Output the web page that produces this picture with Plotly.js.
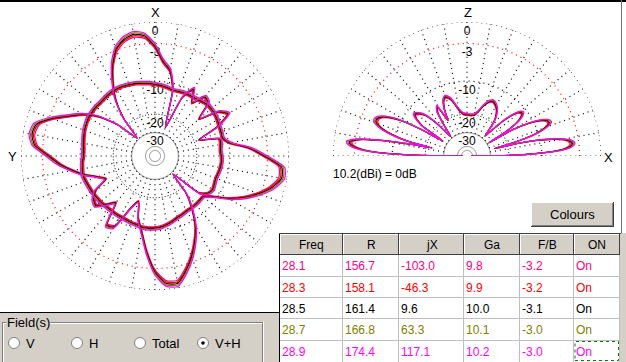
<!DOCTYPE html>
<html><head><meta charset="utf-8">
<script src="https://cdn.plot.ly/plotly-3.0.1.min.js"></script>
<style>html,body{margin:0;padding:0;background:#fff;overflow:hidden}#chart{width:626px;height:362px}</style>
</head><body><div id="chart"></div>
<script>
// ---------------- data ----------------
const freqs = [28.1, 28.3, 28.5, 28.7, 28.9];
const resistance = [156.7, 158.1, 161.4, 166.8, 174.4];
const reactance = [-103.0, -46.3, 9.6, 63.3, 117.1];
const gainDbi = [9.8, 9.9, 10.0, 10.1, 10.2];
const frontBack = [-3.2, -3.2, -3.1, -3.0, -3.0];
const onState = ['On', 'On', 'On', 'On', 'On'];
// level of each frequency's pattern relative to the 28.9 curve (dB)
const freqLevelDb = [-0.8, -0.6, -0.4, -0.2, 0.0];
const tableHeader = ['Freq', 'R', 'jX', 'Ga', 'F/B', 'ON'];
const refGainText = '10.2(dBi) = 0dB';
const ringLevels = [0, -3, -10, -20, -30];
const ringLabels = ['0', '-3', '-10', '-20', '-30'];
const fieldOptions = ['V', 'H', 'Total', 'V+H'];
const fieldSelected = 'V+H';

// azimuth cut (deg, X = 0, Y = 90), dB relative to 0dB
const azAngles = [0,5,10,15,20,25,30,35,40,45,50,55,60,65,70,75,80,85,90,95,100,105,110,115,120,125,130,135,140,145,150,155,160,165,170,175,180,185,190,195,200,205,210,215,220,225,230,235,240,245,250,255,260,265,270,275,280,285,290,295,300,305,310,315,320,325,330,335,340,345,350,355];
const azFieldA = [-3.0,-1.4,-1.0,-1.4,-2.4,-4.5,-7.5,-11,-17,-28,-17,-11,-7.8,-5.5,-3.0,-1.1,-0.8,-1.4,-3.5,-5.3,-7.6,-10,-13,-15,-11,-9.5,-9,-11,-13,-7.5,-8,-14,-17,-12,-9,-5.2,-2.0,-0.4,-0.2,-1.6,-3.4,-5.6,-8.2,-12,-17,-28,-14,-12,-11.5,-11.8,-12,-11.8,-11.6,-11.5,-11.6,-11.8,-11.5,-11.5,-17.5,-11,-7.5,-9,-14,-9.5,-9,-12,-9,-12,-25,-11,-7,-5.5];
const azFieldB = [-10.3,-10.0,-9.8,-9.5,-9.3,-9.1,-9.0,-9.0,-9.1,-9.2,-9.1,-9.1,-9.1,-9.3,-9.5,-9.8,-10.1,-10.3,-10.3,-10.0,-9.8,-9.6,-9.8,-10.0,-10.1,-10.3,-10.4,-10.6,-10.7,-10.7,-10.7,-10.7,-10.5,-10.4,-10.1,-10.1,-10.2,-10.4,-10.8,-11.3,-11.8,-12.1,-12.4,-12.4,-12.4,-12.5,-12.5,-10.5,-7.4,-4.9,-2.9,-1.3,-0.3,-0.5,-3.0,-5.6,-9.3,-10.7,-10.6,-10.5,-10.2,-10.0,-9.9,-9.9,-10.3,-10.6,-10.7,-10.8,-11.0,-11.1,-10.8,-10.5];

// elevation cut (deg from +X towards Z), dB relative to 0dB
const elAngles = [0,1,2,3,4,5,6,7,8,9,10,11,12,13,14,15,16,17,18,20,22,24,26,28,30,31,32,34,36,38,40,42,44,46,48,50,52,55,58,62,65,68,72,76,80,85,90,95,100,103,106,110,113,116,118,121,124,127,130,133,136,139,141,143,146,148,150,152,154,156,158,160,162,164,166,167,168,169,170,171,172,173,174,175,176,177,178,179,180];
const elField = [-60,-18,-11,-7,-5,-4.1,-3.7,-3.6,-3.8,-4.3,-5.3,-6.7,-8.7,-11.5,-16,-26,-17,-12.5,-10,-7.6,-6.6,-6.9,-8.2,-10.8,-16,-28,-18,-13,-11.3,-10.7,-11.2,-12.8,-16,-22,-27,-23,-18.5,-16,-14.5,-13.5,-13.2,-13.8,-15.5,-18,-19.5,-19.8,-19.7,-19.3,-17.5,-15.5,-13.5,-12.5,-13.3,-16,-20,-14,-15.5,-22,-28,-18,-13.5,-12,-11.5,-12,-15,-26,-15,-9,-6.6,-5.4,-5,-5.2,-6.3,-8.6,-13,-22,-15,-10,-6,-3.5,-2.3,-1.7,-1.8,-2.2,-3.0,-4.5,-7.5,-15,-60];

// ---------------- styles ----------------
const freqColors = ['#ff0080', '#ff0000', '#000000', '#808000', '#ff00ff'];
const FONT = 'Liberation Sans, Arial, sans-serif';
const W = 626, H = 362;
const R0 = 134;
const PANEL = '#d4d0c8';

// ARRL-style log-periodic radial scale
function ringR(db) { return R0 * Math.pow(0.89, -Math.max(db, -60) / 2); }

const traces = [];
function gridTraces(sub, a0, a1, topAngle) {
  const circ = (r, color, dash, w) => {
    const th = [], rr = [];
    for (let a = a0; a <= a1; a += 1) { th.push(a); rr.push(r); }
    traces.push({type: 'scatterpolar', subplot: sub, theta: th, r: rr, mode: 'lines',
      line: {color: color, dash: dash, width: w || 1}, hoverinfo: 'skip', cliponaxis: false});
  };
  circ(ringR(0), '#000', '1px,4px', 1.2);
  circ(ringR(-3), '#ff0000', '1px,4px', 1.2);
  circ(ringR(-10), '#000', '1px,4px', 1.2);
  circ(ringR(-20), '#000', '1px,2px', 1);
  circ(ringR(-30), '#808080', 'solid', 1);
  circ(9.5, '#808080', 'solid', 1);
  circ(5.5, '#808080', 'solid', 1);
  const th = [], rr = [];
  const last = (a1 - a0 >= 360) ? a1 - 10 : a1;
  for (let a = a0; a <= last; a += 10) {
    th.push(a, a, null); rr.push(ringR(-30), ringR(0), null);
  }
  traces.push({type: 'scatterpolar', subplot: sub, theta: th, r: rr, mode: 'lines',
    line: {color: '#000', dash: '1px,4px', width: 1.2}, hoverinfo: 'skip', connectgaps: false, cliponaxis: false});
  traces.push({type: 'scatterpolar', subplot: sub, mode: 'text',
    theta: ringLevels.map(() => topAngle), r: ringLevels.map(l => ringR(l) - 9.5),
    text: ringLabels, textfont: {family: FONT, size: 12, color: '#000'}, hoverinfo: 'skip', cliponaxis: false});
}
gridTraces('polar', 0, 360, 0);
gridTraces('polar2', 0, 180, 90);

freqs.forEach((f, i) => {
  const off = freqLevelDb[i];
  const lineStyle = {color: freqColors[i], width: 1.2, shape: 'spline', smoothing: 0.6};
  [azFieldA, azFieldB].forEach(field => {
    const th = azAngles.concat([azAngles[0] + 360]);
    const r = field.concat([field[0]]).map(v => ringR(v + off));
    traces.push({type: 'scatterpolar', subplot: 'polar', theta: th, r: r, mode: 'lines',
      line: lineStyle, hoverinfo: 'skip', cliponaxis: false});
  });
  traces.push({type: 'scatterpolar', subplot: 'polar2', theta: elAngles,
    r: elField.map(v => ringR(v + off)), mode: 'lines', line: lineStyle, hoverinfo: 'skip', cliponaxis: false});
});

// ---------------- chrome ----------------
const shapes = [], annotations = [];
const X = x => x / W, Y = y => 1 - y / H;
function rect(x0, y0, x1, y1, fill, lc, lw, dash) {
  shapes.push({type: 'rect', xref: 'paper', yref: 'paper', x0: X(x0), x1: X(x1), y0: Y(y1), y1: Y(y0),
    fillcolor: fill || 'rgba(0,0,0,0)', line: {color: lc || 'rgba(0,0,0,0)', width: lw || 0, dash: dash || 'solid'}, layer: 'above'});
}
function seg(x0, y0, x1, y1, color, lw, dash) {
  shapes.push({type: 'line', xref: 'paper', yref: 'paper', x0: X(x0), x1: X(x1), y0: Y(y0), y1: Y(y1),
    line: {color: color, width: lw || 1, dash: dash || 'solid'}, layer: 'above'});
}
function circle(cx, cy, r, fill, lc, lw) {
  shapes.push({type: 'circle', xref: 'paper', yref: 'paper', x0: X(cx - r), x1: X(cx + r), y0: Y(cy + r), y1: Y(cy - r),
    fillcolor: fill, line: {color: lc || 'rgba(0,0,0,0)', width: lw || 0}, layer: 'above'});
}
function label(t, x, y, opts) {
  annotations.push(Object.assign({text: t, x: X(x), y: Y(y), xref: 'paper', yref: 'paper', showarrow: false,
    xanchor: 'center', yanchor: 'middle', font: {family: FONT, size: 12, color: '#000'}}, opts || {}));
}

// window borders
seg(0, 1, W, 1, '#000', 2);
seg(621.5, 0, 621.5, 233, '#707070', 1);
// axis letters and reference gain
label('X', 155.5, 12, {font: {family: FONT, size: 13, color: '#000'}});
label('Y', 12, 157, {font: {family: FONT, size: 13, color: '#000'}});
label('Z', 468, 12, {font: {family: FONT, size: 13, color: '#000'}});
label('X', 608, 157.5, {font: {family: FONT, size: 13, color: '#000'}});
label(refGainText, 331, 174, {xanchor: 'left'});

// Colours button
rect(531, 202, 614, 227, PANEL);
seg(531, 202.5, 614, 202.5, '#ffffff', 1);
seg(531.5, 202, 531.5, 227, '#ffffff', 1);
seg(531, 226.5, 614, 226.5, '#404040', 1);
seg(613.5, 202, 613.5, 227, '#404040', 1);
seg(532, 225.5, 613, 225.5, '#808080', 1);
seg(612.5, 203, 612.5, 226, '#808080', 1);
label('Colours', 572.5, 214.5, {font: {family: FONT, size: 13, color: '#000'}});

// Field(s) panel
rect(0, 312, 279, 362, PANEL);
seg(0, 312.5, 279, 312.5, '#000', 1);
seg(2, 322.5, 263, 322.5, '#808080', 1);
seg(3, 323.5, 263, 323.5, '#ffffff', 1);
seg(2.5, 322, 2.5, 362, '#808080', 1);
seg(3.5, 323, 3.5, 362, '#ffffff', 1);
seg(262.5, 322, 262.5, 362, '#808080', 1);
seg(263.5, 322, 263.5, 362, '#ffffff', 1);
label('Field(s)', 6, 322.5, {xanchor: 'left', bgcolor: PANEL, borderpad: 0, font: {family: FONT, size: 13, color: '#000'}});
const radioX = [14, 77, 140, 203];
fieldOptions.forEach((opt, k) => {
  circle(radioX[k], 343, 5.5, '#ffffff', '#808080', 1);
  if (opt === fieldSelected) circle(radioX[k], 343, 1.8, '#000000');
  label(opt, radioX[k] + 10, 343, {xanchor: 'left', font: {family: FONT, size: 13, color: '#000'}});
});

// table
const colEdges = [280, 343, 399, 464, 520, 574, 620];
const headTop = 233, headBot = 255;
const rowEdges = [255, 277, 298, 319, 341, 362];
rect(620, 233, W, H, PANEL);
seg(279.5, 233, 279.5, 362, '#000', 1);
seg(279, 233.5, 621, 233.5, '#404040', 1);
tableHeader.forEach((h, j) => {
  const x0 = colEdges[j], x1 = colEdges[j + 1];
  rect(x0, headTop + 1, x1, headBot, PANEL);
  seg(x0 + 0.5, headTop + 1, x0 + 0.5, headBot, '#ffffff', 1);
  seg(x0, headTop + 1.5, x1, headTop + 1.5, '#ffffff', 1);
  seg(x1 - 0.5, headTop + 1, x1 - 0.5, headBot, '#404040', 1);
  seg(x0, headBot - 0.5, x1, headBot - 0.5, '#404040', 1);
  label(h, (x0 + x1) / 2, (headTop + headBot) / 2 + 0.5);
});
for (let k = 1; k < rowEdges.length - 1; k++) seg(280, rowEdges[k] - 0.5, 620, rowEdges[k] - 0.5, '#c0c0c0', 1);
for (let j = 1; j < colEdges.length; j++) seg(colEdges[j] - 0.5, headBot, colEdges[j] - 0.5, 362, '#c0c0c0', 1);
const cellText = freqs.map((f, i) => [f.toFixed(1), resistance[i].toFixed(1), reactance[i].toFixed(1),
  gainDbi[i].toFixed(1), frontBack[i].toFixed(1), onState[i]]);
cellText.forEach((row, i) => {
  const yc = (rowEdges[i] + rowEdges[i + 1]) / 2;
  row.forEach((t, j) => label(t, colEdges[j], yc, {xanchor: 'left', font: {family: FONT, size: 12, color: freqColors[i]}}));
});
// focus rectangle on last cell
rect(575, 341.5, 618.5, 360.5, 'rgba(0,0,0,0)', '#008000', 1, 'dot');

const layout = {
  width: W, height: H, margin: {l: 0, r: 0, t: 0, b: 0},
  paper_bgcolor: '#ffffff', plot_bgcolor: '#ffffff', showlegend: false, hovermode: false,
  font: {family: FONT},
  polar: {
    domain: {x: [X(21), X(289)], y: [Y(290), Y(22)]}, bgcolor: 'rgba(0,0,0,0)',
    radialaxis: {range: [0, R0], visible: false, showgrid: false, showline: false, showticklabels: false, ticks: ''},
    angularaxis: {visible: false, rotation: 90, direction: 'counterclockwise', showgrid: false, showline: false, showticklabels: false, ticks: ''}
  },
  polar2: {
    domain: {x: [X(333), X(601)], y: [Y(156), Y(22)]}, bgcolor: 'rgba(0,0,0,0)', sector: [0, 180],
    radialaxis: {range: [0, R0], visible: false, showgrid: false, showline: false, showticklabels: false, ticks: ''},
    angularaxis: {visible: false, rotation: 0, direction: 'counterclockwise', showgrid: false, showline: false, showticklabels: false, ticks: ''}
  },
  shapes: shapes, annotations: annotations
};
Plotly.newPlot('chart', traces, layout, {staticPlot: true, displayModeBar: false});
</script>
</body></html>
